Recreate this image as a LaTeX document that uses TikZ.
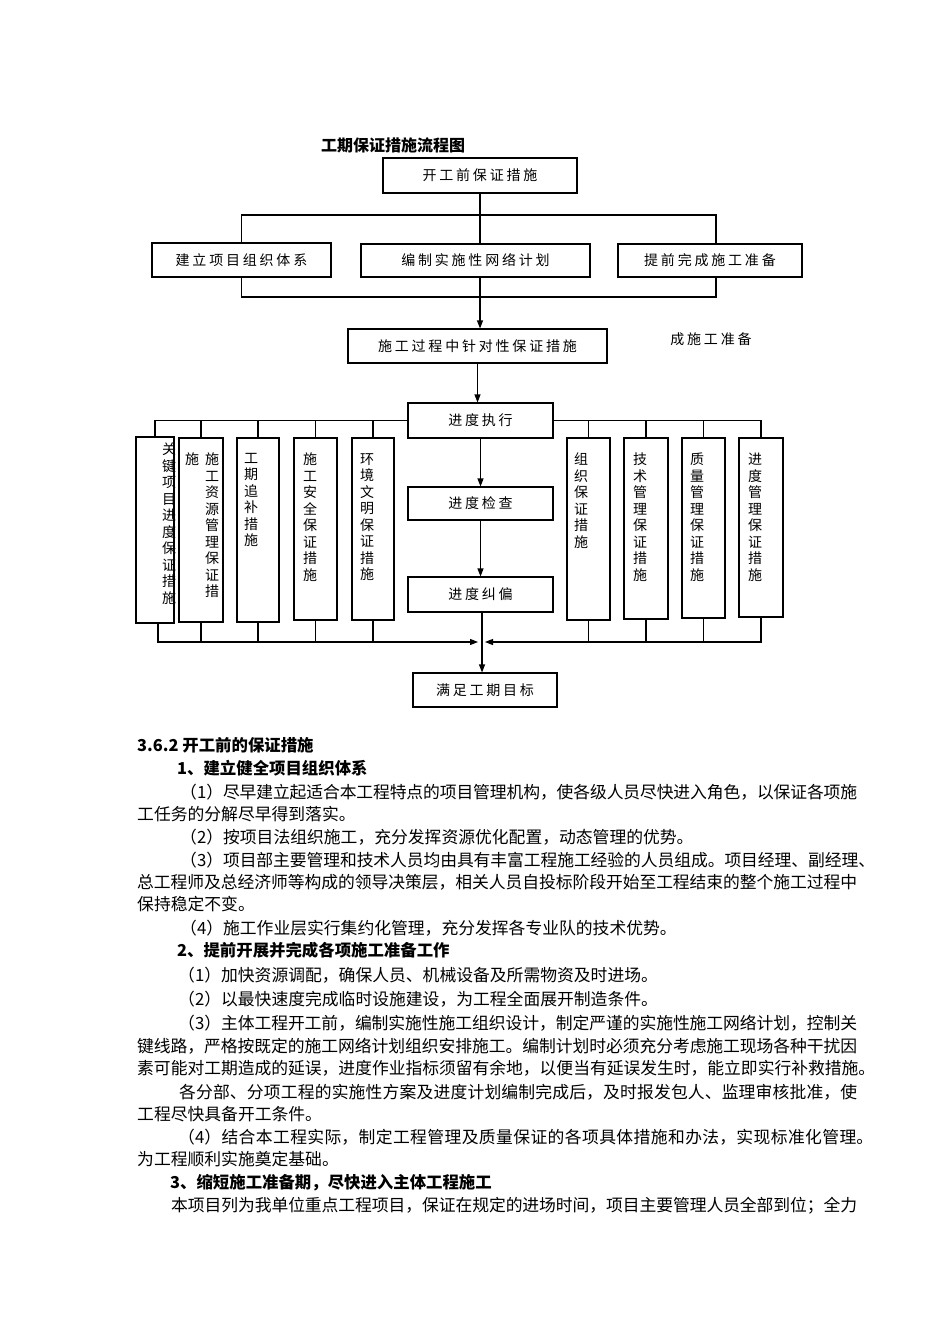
\documentclass[tikz,border=0pt]{standalone}
\usepackage{fontspec}
\setmainfont{Noto Sans CJK SC}
\newfontfamily\boxfont{Noto Sans CJK SC}[LetterSpace=20]
\usetikzlibrary{arrows.meta}
\XeTeXlinebreaklocale "zh"
\XeTeXlinebreakskip=0pt plus 3pt minus 1.2pt
\newcommand\boxat[6]{\node[fbox, minimum width={#4-#2}, minimum height={#5-#3}] (#1) at ({(#2+#4)/2},{(#3+#5)/2}) {#6};}
\newcommand\jline[5]{\node[body] (#1) at (#2,#3+6) {\parbox[t]{#4pt}{\parindent=0pt\parfillskip=0pt #5}};}
\newcommand\pline[4]{\node[body] (#1) at (#2,#3+6) {#4};}
\newcommand\headline[4]{\node[head] (#1) at (#2,#3+6) {#4};}
\tikzset{
  fbox/.style={draw, line width=1.1pt, inner sep=0pt, font=\boxfont\fontsize{14}{16.5}\selectfont},
  vtext/.style={anchor=north, inner sep=0pt, align=center, font=\boxfont\fontsize{14}{16.5}\selectfont},
  conn/.style={line width=1.1pt},
  arr/.style={conn, -{Triangle[length=8pt,width=6pt]}},
  body/.style={anchor=base west, inner sep=0pt, font=\fontsize{16.8}{20}\selectfont},
  head/.style={anchor=base west, inner sep=0pt, font=\bfseries\fontsize{16.4}{20}\selectfont},
}
\begin{document}
\begin{tikzpicture}[x=1pt,y=-1pt]
\useasboundingbox (0,0) rectangle (950,1344);
\fill[white] (0,0) rectangle (950,1344);

% title
\node[anchor=west, inner sep=0pt, font=\bfseries\fontsize{16}{18}\selectfont] (title) at (321,145) {工期保证措施流程图};

% boxes
\boxat{A}{383}{158}{577}{193}{开工前保证措施}
\boxat{B1}{152}{243}{331}{277}{建立项目组织体系}
\boxat{B2}{361}{244}{590}{277}{编制实施性网络计划}
\boxat{B3}{618}{244}{802}{277}{提前完成施工准备}
\boxat{C}{348}{329}{607}{363}{施工过程中针对性保证措施}
\node[inner sep=0pt, font=\boxfont\fontsize{14}{16.5}\selectfont] (note) at (711,339) {成施工准备};
\boxat{D}{408}{403}{553}{438}{进度执行}
\boxat{E}{408}{487}{553}{520}{进度检查}
\boxat{F}{408}{577}{553}{612}{进度纠偏}
\boxat{G}{413}{673}{557}{707}{满足工期目标}

\boxat{T1}{136}{437}{174}{623}{}
\boxat{T2}{179}{438}{223}{622}{}
\boxat{T3}{237}{438}{279}{622}{}
\boxat{T4}{294}{438}{337}{620}{}
\boxat{T5}{352}{438}{394}{620}{}
\boxat{T6}{567}{438}{610}{620}{}
\boxat{T7}{624}{438}{668}{619}{}
\boxat{T8}{682}{438}{725}{618}{}
\boxat{T9}{739}{438}{783}{617}{}

\node[vtext] (t1) at (169,443) {关\\键\\项\\目\\进\\度\\保\\证\\措\\施};
\node[vtext] (t2a) at (212,453) {施\\工\\资\\源\\管\\理\\保\\证\\措};
\node[vtext] (t2b) at (192,453) {施};
\node[vtext] (t3) at (251,453) {工\\期\\追\\补\\措\\施};
\node[vtext] (t4) at (310,453) {施\\工\\安\\全\\保\\证\\措\\施};
\node[vtext] (t5) at (367,453) {环\\境\\文\\明\\保\\证\\措\\施};
\node[vtext] (t6) at (581,453) {组\\织\\保\\证\\措\\施};
\node[vtext] (t7) at (640,453) {技\\术\\管\\理\\保\\证\\措\\施};
\node[vtext] (t8) at (697,453) {质\\量\\管\\理\\保\\证\\措\\施};
\node[vtext] (t9) at (755,453) {进\\度\\管\\理\\保\\证\\措\\施};

% connectors
\coordinate (j1) at (480,215);
\coordinate (j2) at (480,297);
\draw[conn] (A.south) -- (A.south |- B2.north);
\draw[conn] (B1.north) |- (j1) -| ([xshift=6pt]B3.north);
\draw[conn] (B1.south) |- (j2) -| ([xshift=6pt]B3.south);
\draw[arr] (A.south |- B2.south) -- (A.south |- C.north);
\draw[arr] (C.south) -- (C.south |- D.north);
\draw[conn] (D.west) -| (T1.north);
\draw[conn] (D.west) -| (T2.north);
\draw[conn] (D.west) -| (T3.north);
\draw[conn] (D.west) -| (T4.north);
\draw[conn] (D.west) -| (T5.north);
\draw[conn] (D.east) -| (T6.north);
\draw[conn] (D.east) -| (T7.north);
\draw[conn] (D.east) -| (T8.north);
\draw[conn] (D.east) -| (T9.north);
\draw[arr] (D.south) -- (E.north);
\draw[arr] (E.south) -- (F.north);
\draw[arr] ([xshift=1.5pt]F.south) -- ([xshift=1.5pt]F.south |- G.north);
\coordinate (ml) at (478,642);
\coordinate (mr) at (485,642);
\draw[arr] ([xshift=3pt]T1.south) |- (ml);
\draw[conn] (T2.south) -- (T2.south |- ml);
\draw[conn] (T3.south) -- (T3.south |- ml);
\draw[conn] (T4.south) -- (T4.south |- ml);
\draw[conn] (T5.south) -- (T5.south |- ml);
\draw[arr] (T9.south) |- (mr);
\draw[conn] (T6.south) -- (T6.south |- mr);
\draw[conn] (T7.south) -- (T7.south |- mr);
\draw[conn] (T8.south) -- (T8.south |- mr);

% body text
\headline{h1}{137}{745}{3.6.2 开工前的保证措施}
\headline{h2}{177}{768}{1、建立健全项目组织体系}
\jline{l1}{180}{792}{677}{（1）尽早建立起适合本工程特点的项目管理机构，使各级人员尽快进入角色，以保证各项施}
\pline{l2}{137}{814}{工任务的分解尽早得到落实。}
\pline{l3}{180}{837}{（2）按项目法组织施工，充分发挥资源优化配置，动态管理的优势。}
\jline{l4}{180}{860}{695}{（3）项目部主要管理和技术人员均由具有丰富工程施工经验的人员组成。项目经理、副经理、}
\jline{l5}{137}{882}{720}{总工程师及总经济师等构成的领导决策层，相关人员自投标阶段开始至工程结束的整个施工过程中}
\pline{l6}{137}{904}{保持稳定不变。}
\pline{l7}{180}{928}{（4）施工作业层实行集约化管理，充分发挥各专业队的技术优势。}
\headline{h3}{177}{950}{2、提前开展并完成各项施工准备工作}
\pline{l8}{178}{975}{（1）加快资源调配，确保人员、机械设备及所需物资及时进场。}
\pline{l9}{178}{999}{（2）以最快速度完成临时设施建设，为工程全面展开制造条件。}
\jline{l10}{178}{1023}{679}{（3）主体工程开工前，编制实施性施工组织设计，制定严谨的实施性施工网络计划，控制关}
\jline{l11}{137}{1046}{720}{键线路，严格按既定的施工网络计划组织安排施工。编制计划时必须充分考虑施工现场各种干扰因}
\jline{l12}{137}{1068}{738}{素可能对工期造成的延误，进度作业指标须留有余地，以便当有延误发生时，能立即实行补救措施。}
\jline{l13}{179}{1092}{678}{各分部、分项工程的实施性方案及进度计划编制完成后，及时报发包人、监理审核批准，使}
\pline{l14}{137}{1114}{工程尽快具备开工条件。}
\jline{l15}{178}{1137}{695}{（4）结合本工程实际，制定工程管理及质量保证的各项具体措施和办法，实现标准化管理。}
\pline{l16}{137}{1159}{为工程顺利实施奠定基础。}
\headline{h4}{170}{1182}{3、缩短施工准备期，尽快进入主体工程施工}
\jline{l17}{171}{1205}{686}{本项目列为我单位重点工程项目，保证在规定的进场时间，项目主要管理人员全部到位；全力}
\end{tikzpicture}
\end{document}
